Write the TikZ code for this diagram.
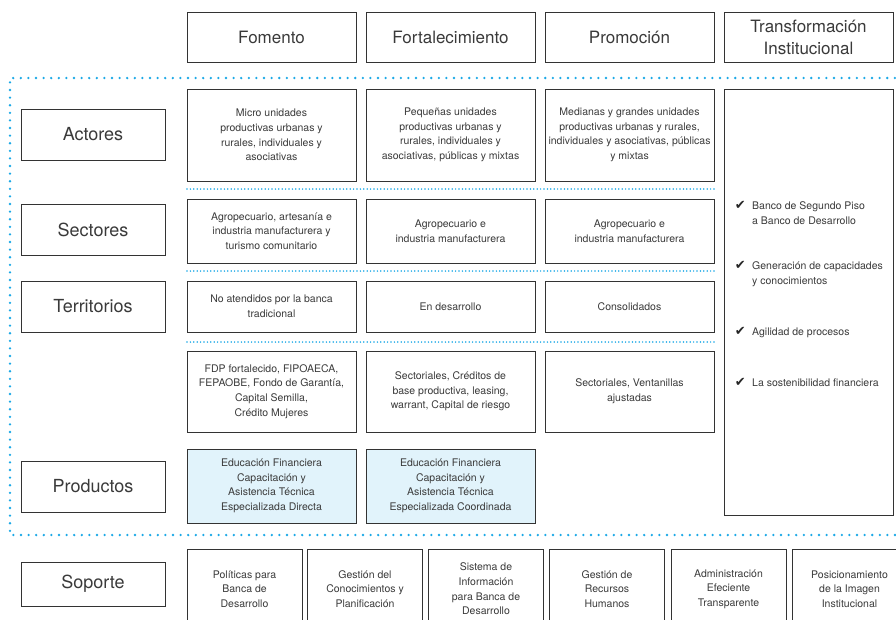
\documentclass[tikz,border=0pt]{standalone}
\usepackage{fontspec}
\setmainfont{TeX Gyre Heros}
\newfontfamily\symfont{DejaVu Sans}
\usetikzlibrary{positioning}

\definecolor{framecol}{HTML}{1BA8E6}
\definecolor{prodfill}{HTML}{E1F3FB}
\definecolor{txtgray}{HTML}{3A3A3A}

\tikzset{
  box/.style={draw=black!80, line width=0.9pt, text=txtgray, align=center,
    inner sep=0pt},
  headbox/.style={box, minimum width=169, minimum height=50,
    font=\fontsize{17}{22}\selectfont},
  rowlabel/.style={box, minimum width=144, minimum height=51,
    font=\fontsize{18}{22}\selectfont},
  cellbox/.style={box, minimum width=169, minimum height=#1,
    font=\fontsize{10.5}{14.6}\selectfont},
  prodbox/.style={cellbox=74, fill=prodfill},
  supbox/.style={box, minimum width=115, minimum height=80,
    font=\fontsize{10.5}{14.6}\selectfont},
  item/.style={text=txtgray, align=left, inner sep=0pt,
    font=\fontsize{10.5}{14.6}\selectfont},
  chk/.style={text=black!85, inner sep=0pt, font=\symfont\fontsize{13}{15}\selectfont},
  frame/.style={framecol, line width=2.6pt, line cap=round,
    dash pattern=on 0pt off 7.6pt},
  sepline/.style={framecol, line width=1.7pt, line cap=round,
    dash pattern=on 0pt off 3.4pt}
}

\begin{document}
\begin{tikzpicture}[x=1pt, y=-1pt]
\useasboundingbox (0,0) rectangle (896,619);

% Column headers
\node[headbox] (hFom) at (271.5,37) {Fomento};
\node[headbox] (hFor) at (450.5,37) {Fortalecimiento};
\node[headbox] (hPro) at (629.5,37) {Promoción};
\node[headbox] (hTra) at (808.5,37) {Transformación\\Institucional};

% Dotted frame
\draw[frame] (910,78) -- (10,78) -- (10,535) -- (910,535);

% Row labels
\node[rowlabel] (lAct) at (93,134.5) {Actores};
\node[rowlabel] (lSec) at (93,230) {Sectores};
\node[rowlabel] (lTer) at (93,306.5) {Territorios};
\node[rowlabel] (lPrd) at (93,486.5) {Productos};

% Actores
\node[cellbox=92] (act1) at (271.5,135) {Micro unidades\\productivas urbanas y\\rurales, individuales y\\asociativas};
\node[cellbox=92] (act2) at (450.5,135) {Pequeñas unidades\\productivas urbanas y\\rurales, individuales y\\asociativas, públicas y mixtas};
\node[cellbox=92] (act3) at (629.5,135) {Medianas y grandes unidades\\productivas urbanas y rurales,\\individuales y asociativas, públicas\\y mixtas};

\draw[sepline] (187,189) -- (715,189);

% Sectores
\node[cellbox=64] (sec1) at (271.5,231) {Agropecuario, artesanía e\\industria manufacturera y\\turismo comunitario};
\node[cellbox=64] (sec2) at (450.5,231) {Agropecuario e\\industria manufacturera};
\node[cellbox=64] (sec3) at (629.5,231) {Agropecuario e\\industria manufacturera};

\draw[sepline] (187,271) -- (715,271);

% Territorios
\node[cellbox=51] (ter1) at (271.5,306.5) {No atendidos por la banca\\tradicional};
\node[cellbox=51] (ter2) at (450.5,306.5) {En desarrollo};
\node[cellbox=51] (ter3) at (629.5,306.5) {Consolidados};

\draw[sepline] (187,342) -- (715,342);

% Productos
\node[cellbox=81] (prd1) at (271.5,391.5) {FDP fortalecido, FIPOAECA,\\FEPAOBE, Fondo de Garantía,\\Capital Semilla,\\Crédito Mujeres};
\node[cellbox=81] (prd2) at (450.5,391.5) {Sectoriales, Créditos de\\base productiva, leasing,\\warrant, Capital de riesgo};
\node[cellbox=81] (prd3) at (629.5,391.5) {Sectoriales, Ventanillas\\ajustadas};
\node[prodbox] (edu1) at (271.5,486) {Educación Financiera\\Capacitación y\\Asistencia Técnica\\Especializada Directa};
\node[prodbox] (edu2) at (450.5,486) {Educación Financiera\\Capacitación y\\Asistencia Técnica\\Especializada Coordinada};

% Transformacion institucional
\node[box, minimum width=169, minimum height=426] (trans) at (808.5,302) {};
\node[item, anchor=north west] (itA) at (752,201.5) {Banco de Segundo Piso\\a Banco de Desarrollo};
\node[item, anchor=north west] (itB) at (752,261.5) {Generación de capacidades\\y conocimientos};
\node[item, anchor=north west] (itC) at (752,327.5) {Agilidad de procesos};
\node[item, anchor=north west] (itD) at (752,378.5) {La sostenibilidad financiera};
\node[chk, left=6pt of itA.north west, anchor=north east] (ckA) {✔};
\node[chk, left=6pt of itB.north west, anchor=north east] (ckB) {✔};
\node[chk, left=6pt of itC.north west, anchor=north east] (ckC) {✔};
\node[chk, left=6pt of itD.north west, anchor=north east] (ckD) {✔};

% Soporte
\node[box, minimum width=144, minimum height=44, font=\fontsize{18}{22}\selectfont] (lSop) at (93,584) {Soporte};
\node[supbox] (sup1) at (244.5,589) {Políticas para\\Banca de\\Desarrollo};
\node[supbox] (sup2) at (365,589) {Gestión del\\Conocimientos y\\Planificación};
\node[supbox] (sup3) at (486,589) {Sistema de\\Información\\para Banca de\\Desarrollo};
\node[supbox] (sup4) at (607,589) {Gestión de\\Recursos\\Humanos};
\node[supbox] (sup5) at (728.5,589) {Administración\\Efeciente\\Transparente};
\node[supbox] (sup6) at (849.5,589) {Posicionamiento\\de la Imagen\\Institucional};
\end{tikzpicture}
\end{document}
